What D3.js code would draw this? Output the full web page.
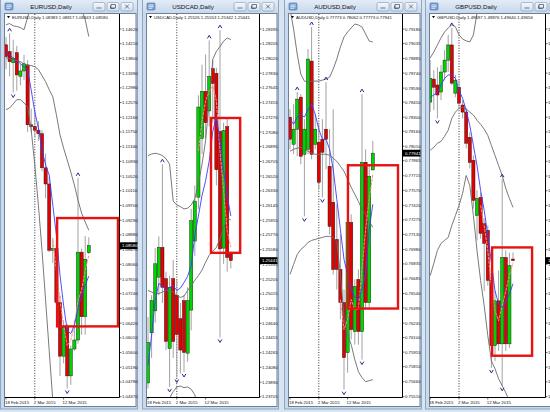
<!DOCTYPE html>
<html>
<head>
<meta charset="utf-8">
<script src="https://cdn.jsdelivr.net/npm/d3@7"></script>
<style>
html,body{margin:0;padding:0;background:#d9e4f1;}
svg{display:block;}
</style>
</head>
<body>
<div id="chart"></div>
<script>
// ---- shared time axis ----
var dateLabels = ["18 Feb 2015", "2 Mar 2015", "12 Mar 2015"];
var dateIndex = [0, 8, 16];
var separatorIndex = 8;

// ---- EURUSD ----  [open, high, low, close]
var eurOHLC = [
  [1.1418,1.1440,1.1350,1.1385],[1.1399,1.1450,1.1330,1.1371],[1.1368,1.1432,1.1285,1.1380],
  [1.1396,1.1415,1.1290,1.1334],[1.1330,1.1365,1.1305,1.1345],[1.1345,1.1390,1.1320,1.1365],
  [1.1362,1.1375,1.1175,1.1195],[1.1195,1.1240,1.1175,1.1190],[1.1190,1.1235,1.1160,1.1180],
  [1.1180,1.1205,1.1150,1.1170],[1.1170,1.1180,1.1065,1.1075],[1.1075,1.1115,1.0990,1.1030],
  [1.1030,1.1050,1.0840,1.0845],[1.0845,1.0880,1.0810,1.0850],[1.0850,1.0860,1.0695,1.0700],
  [1.0700,1.0720,1.0495,1.0550],[1.0550,1.0650,1.0530,1.0630],[1.0630,1.0640,1.0460,1.0495],
  [1.0495,1.0580,1.0470,1.0570],[1.0570,1.0650,1.0565,1.0595],[1.0595,1.1047,1.0585,1.0840],
  [1.0840,1.0850,1.0610,1.0660],[1.0660,1.0885,1.0610,1.0820],[1.08383,1.08817,1.08343,1.08580]
];
var eurUpper = [1.1474,1.1477,1.1471,1.1469,1.1466,1.1460,1.1494,1.1530,1.1572,1.1600,1.1628,1.1642,1.1656,1.1656,1.1650,1.1642,1.1628,1.1614,1.1586,1.1558,1.1544,1.1516,1.1488,1.1441];
var eurMiddle = [1.1382,1.1379,1.1376,1.1374,1.1371,1.1365,1.1360,1.1360,1.1357,1.1349,1.1332,1.1315,1.1293,1.1273,1.1223,1.1167,1.1130,1.1097,1.1063,1.1027,1.0985,1.0949,1.0924,1.0901];
var eurLower = [1.1237,1.1242,1.1253,1.1265,1.1265,1.1256,1.1245,1.1181,1.1083,1.0971,1.0845,1.0706,1.0566,1.0426,1.0314,1.0230,1.0147,1.0091,1.0063,1.0035,1.0063,1.0091,1.0119,1.0147];
var eurBlue = [1.1399,1.1388,1.1382,1.1376,1.1365,1.1357,1.1348,1.1292,1.1231,1.1186,1.1125,1.1083,1.1055,1.0971,1.0887,1.0776,1.0692,1.0622,1.0613,1.0636,1.0683,1.0720,1.0748,1.0773];
var eurPink = [null,null,null,null,null,null,null,null,null,null,null,null,null,1.0873,1.0789,1.0706,1.0636,1.0580,1.0594,1.0636,1.0706,1.0734,1.0789,1.0831];
var eurFractUp = [1, 20];
var eurFractDown = [2, 17];
var eurBox = [14.2, 31.1, 1.0935, 1.0633];
var eurTicks = ["1.14620","1.14210","1.13800","1.13390","1.12980","1.12570","1.12160","1.11750","1.11340","1.10930","1.10520","1.10110","1.09700","1.09290","1.08880","1.08470","1.08060","1.07650","1.07240","1.06830","1.06420","1.06010","1.05600","1.05190","1.04780","1.04370"];

// ---- USDCAD ----
var cadOHLC = [
  [1.2388,1.2472,1.2381,1.2440],[1.2452,1.2500,1.2420,1.2493],[1.2480,1.2560,1.2465,1.2540],
  [1.2523,1.2575,1.2500,1.2561],[1.2561,1.2667,1.2490,1.2510],[1.2521,1.2530,1.2430,1.2441],
  [1.2432,1.2525,1.2383,1.2510],[1.2521,1.2545,1.2420,1.2441],[1.2500,1.2520,1.2395,1.2450],
  [1.2470,1.2490,1.2400,1.2430],[1.2493,1.2500,1.2402,1.2427],[1.2426,1.2510,1.2415,1.2493],
  [1.2481,1.2610,1.2455,1.2595],[1.2569,1.2640,1.2550,1.2620],[1.2625,1.2755,1.2610,1.2740],
  [1.2700,1.2794,1.2680,1.2760],[1.2760,1.2807,1.2700,1.2720],[1.2735,1.2825,1.2715,1.2779],
  [1.2789,1.2800,1.2720,1.2770],[1.2783,1.2790,1.2640,1.2660],[1.2709,1.2838,1.2446,1.2559],
  [1.2560,1.2720,1.2540,1.2710],[1.2715,1.2725,1.2530,1.2548],[1.25526,1.25553,1.25342,1.25441]
];
var cadUpper = [1.2678,1.2680,1.2681,1.2680,1.2678,1.2674,1.2667,1.2620,1.2615,1.2613,1.2610,1.2611,1.2615,1.2623,1.2642,1.2667,1.2697,1.2748,1.2801,1.2811,1.2817,1.2824,1.2828,1.2826];
var cadMiddle = [1.2506,1.2504,1.2502,1.2502,1.2504,1.2506,1.2506,1.2504,1.2500,1.2497,1.2499,1.2506,1.2512,1.2519,1.2525,1.2532,1.2542,1.2551,1.2556,1.2561,1.2572,1.2585,1.2598,1.2596];
var cadLower = [1.2354,1.2360,1.2366,1.2360,1.2354,1.2360,1.2369,1.2377,1.2383,1.2384,1.2382,1.2383,1.2380,1.2373,1.2354,1.2335,1.2315,1.2296,1.2284,1.2277,1.2277,1.2284,1.2290,1.2296];
var cadBlue = [1.2411,1.2449,1.2493,1.2515,1.2512,1.2506,1.2510,1.2512,1.2506,1.2509,1.2516,1.2524,1.2538,1.2576,1.2601,1.2627,1.2646,1.2671,1.2709,1.2728,1.2697,1.2659,1.2627,1.2601];
var cadPink = [null,null,null,null,null,null,null,null,null,null,null,null,null,null,1.2684,1.2722,1.2748,1.2760,1.2767,1.2748,1.2684,1.2633,1.2582,1.2561];
var cadFractUp = [4, 17, 20];
var cadFractDown = [6, 8, 10, 20];
var cadBox = [17.5, 25.6, 1.2726, 1.2554];
var cadTicks = ["1.28395","1.28205","1.28020","1.27830","1.27645","1.27455","1.27270","1.27080","1.26895","1.26705","1.26520","1.26330","1.26145","1.25955","1.25770","1.25580","1.25395","1.25205","1.25015","1.24830","1.24640","1.24455","1.24265","1.24080","1.23890","1.23705"];

// ---- AUDUSD ----
var audOHLC = [
  [0.7830,0.7838,0.7798,0.7808],[0.7803,0.7843,0.7793,0.7818],[0.7818,0.7855,0.7791,0.7848],
  [0.7850,0.7853,0.7783,0.7791],[0.7793,0.7828,0.7731,0.7818],[0.7798,0.7898,0.7793,0.7888],
  [0.7886,0.7920,0.7788,0.7793],[0.7803,0.7833,0.7798,0.7818],[0.7805,0.7823,0.7758,0.7765],
  [0.7808,0.7828,0.7750,0.7795],[0.7818,0.7865,0.7778,0.7808],[0.7781,0.7818,0.7713,0.7721],
  [0.7745,0.7838,0.7673,0.7678],[0.7708,0.7743,0.7658,0.7678],[0.7678,0.7713,0.7628,0.7645],
  [0.7645,0.7658,0.7558,0.7590],[0.7595,0.7733,0.7575,0.7725],[0.7725,0.7733,0.7608,0.7618],
  [0.7616,0.7668,0.7603,0.7661],[0.7668,0.7678,0.7603,0.7616],[0.7616,0.7853,0.7588,0.7785],
  [0.7785,0.7798,0.7638,0.7645],[0.7645,0.7783,0.7638,0.7771],[0.77773,0.78062,0.77773,0.77941]
];
var audUpper = [0.7938,0.7918,0.7893,0.7873,0.7866,0.7865,0.7866,0.7866,0.7866,0.7867,0.7868,0.7870,0.7878,0.7888,0.7900,0.7910,0.7915,0.7919,0.7923,0.7922,0.7920,0.7913,0.7906,0.7905];
var audMiddle = [0.7796,0.7798,0.7799,0.7800,0.7798,0.7796,0.7794,0.7793,0.7793,0.7793,0.7793,0.7792,0.7789,0.7786,0.7781,0.7776,0.7768,0.7760,0.7753,0.7746,0.7738,0.7733,0.7726,0.7720];
var audLower = [0.7673,0.7683,0.7693,0.7698,0.7701,0.7705,0.7707,0.7708,0.7709,0.7710,0.7711,0.7711,0.7710,0.7706,0.7673,0.7630,0.7613,0.7603,0.7588,0.7576,0.7570,0.7566,0.7567,0.7568];
var audBlue = [0.7828,0.7823,0.7830,0.7833,0.7830,0.7838,0.7843,0.7833,0.7818,0.7808,0.7808,0.7798,0.7778,0.7748,0.7718,0.7688,0.7673,0.7658,0.7650,0.7648,0.7658,0.7673,0.7718,0.7743];
var audPink = [null,null,null,null,null,null,null,null,null,null,null,null,null,null,0.7648,0.7618,0.7628,0.7648,0.7638,0.7638,0.7678,0.7718,0.7748,0.7773];
var audFractUp = [2, 6, 10, 20];
var audFractDown = [4, 9, 15, 20];
var audBox = [16.1, 30.0, 0.7782, 0.7639];
var audTicks = ["0.79180","0.79035","0.78885","0.78740","0.78590","0.78450","0.78300","0.78160","0.78010","0.77865","0.77715","0.77570","0.77420","0.77275","0.77130","0.76980","0.76835","0.76685","0.76540","0.76395","0.76245","0.76100","0.75955","0.75810","0.75660","0.75510"];

// ---- GBPUSD ----
var gbpOHLC = [
  [1.5393,1.5506,1.5366,1.5457],[1.5455,1.5479,1.5371,1.5433],[1.5439,1.5487,1.5349,1.5412],
  [1.5420,1.5493,1.5398,1.5474],[1.5474,1.5533,1.5452,1.5506],[1.5506,1.5574,1.5474,1.5547],
  [1.5547,1.5593,1.5439,1.5444],[1.5417,1.5466,1.5406,1.5452],[1.5433,1.5452,1.5376,1.5390],
  [1.5385,1.5398,1.5349,1.5366],[1.5366,1.5376,1.5268,1.5282],[1.5298,1.5312,1.5214,1.5230],
  [1.5236,1.5249,1.5106,1.5128],[1.5087,1.5155,1.5020,1.5133],[1.5136,1.5149,1.5025,1.5039],
  [1.5066,1.5079,1.4884,1.5012],[1.5047,1.5060,1.4898,1.4912],[1.4912,1.4925,1.4676,1.4736],
  [1.4736,1.4884,1.4695,1.4857],[1.4857,1.4939,1.4722,1.4741],[1.4741,1.5185,1.4628,1.4974],
  [1.4974,1.4993,1.4722,1.4741],[1.4741,1.4987,1.4730,1.4952],[1.49697,1.49876,1.49640,1.49656]
];
var gbpUpper = [1.5512,1.5528,1.5547,1.5566,1.5582,1.5593,1.5601,1.5596,1.5574,1.5563,1.5558,1.5555,1.5574,1.5633,1.5682,1.5720,1.5750,1.5780,1.5800,1.5810,1.5820,1.5830,1.5835,1.5840];
var gbpMiddle = [1.5263,1.5271,1.5282,1.5287,1.5301,1.5317,1.5349,1.5366,1.5376,1.5379,1.5374,1.5366,1.5358,1.5344,1.5333,1.5320,1.5303,1.5276,1.5249,1.5222,1.5195,1.5160,1.5133,1.5109];
var gbpLower = [1.4925,1.4958,1.4993,1.5012,1.5020,1.5028,1.5060,1.5087,1.5114,1.5147,1.5195,1.5168,1.5087,1.4993,1.4912,1.4844,1.4763,1.4695,1.4674,1.4647,1.4628,1.4609,1.4587,1.4560];
var gbpBlue = [1.5406,1.5412,1.5420,1.5439,1.5457,1.5466,1.5466,1.5457,1.5425,1.5403,1.5371,1.5330,1.5276,1.5222,1.5155,1.5101,1.5033,1.4960,1.4884,1.4849,1.4839,1.4852,1.4876,1.4903];
var gbpPink = [null,null,null,null,null,null,null,null,null,null,null,null,null,null,1.5114,1.5060,1.4993,1.4898,1.4830,1.4803,1.4844,1.4884,1.4925,1.4960];
var gbpFractUp = [6, 20];
var gbpFractDown = [2, 17, 20];
var gbpBox = [17.2, 28.3, 1.5001, 1.4709];
var gbpTicks = ["1.55900","1.55505","1.55105","1.54710","1.54315","1.53915","1.53520","1.53125","1.52725","1.52330","1.51935","1.51540","1.51140","1.50745","1.50350","1.49950","1.49555","1.49160","1.48760","1.48365","1.47970","1.47575","1.47175","1.46780","1.46385","1.45985"];

var charts = [
  {name:"EURUSD", ohlc:eurOHLC, upper:eurUpper, middle:eurMiddle, lower:eurLower, blue:eurBlue, pink:eurPink, up:eurFractUp, down:eurFractDown, box:eurBox, ticks:eurTicks},
  {name:"USDCAD", ohlc:cadOHLC, upper:cadUpper, middle:cadMiddle, lower:cadLower, blue:cadBlue, pink:cadPink, up:cadFractUp, down:cadFractDown, box:cadBox, ticks:cadTicks},
  {name:"AUDUSD", ohlc:audOHLC, upper:audUpper, middle:audMiddle, lower:audLower, blue:audBlue, pink:audPink, up:audFractUp, down:audFractDown, box:audBox, ticks:audTicks},
  {name:"GBPUSD", ohlc:gbpOHLC, upper:gbpUpper, middle:gbpMiddle, lower:gbpLower, blue:gbpBlue, pink:gbpPink, up:gbpFractUp, down:gbpFractDown, box:gbpBox, ticks:gbpTicks}
];

// window placement
var wins = [
  {outerL:0,   outerR:138, plotL:5,   axisX:119, bar0:6},
  {outerL:142, outerR:279, plotL:147, axisX:259, bar0:148},
  {outerL:284, outerR:422, plotL:289, axisX:402, bar0:290},
  {outerL:425, outerR:566, plotL:430, axisX:545, bar0:430.2}
];

var WIDTH = 550, HEIGHT = 412;
var TOP = 14, BOTTOM = 397;
var BAR_STEP = 3.6;
var FONT = "'Liberation Sans', Arial, sans-serif";

var svg = d3.select("#chart").append("svg")
  .attr("width", WIDTH).attr("height", HEIGHT);

var defs = svg.append("defs");
var tg = defs.append("linearGradient").attr("id","titleGrad").attr("x1",0).attr("y1",0).attr("x2",0).attr("y2",1);
tg.append("stop").attr("offset","0%").attr("stop-color","#e3ecf7");
tg.append("stop").attr("offset","100%").attr("stop-color","#c8d8ed");
var bg = defs.append("linearGradient").attr("id","btnGrad").attr("x1",0).attr("y1",0).attr("x2",0).attr("y2",1);
bg.append("stop").attr("offset","0%").attr("stop-color","#f7f9fc");
bg.append("stop").attr("offset","100%").attr("stop-color","#d3dfee");

svg.append("rect").attr("width",WIDTH).attr("height",HEIGHT).attr("fill","#d9e4f1");

function drawWindow(win, c, k){
  var g = svg.append("g");
  // frame
  g.append("rect").attr("x",win.outerL+0.5).attr("y",-2).attr("width",win.outerR-win.outerL-1).attr("height",411)
    .attr("fill","#c9d9ee").attr("stroke","#8ea5c3");
  g.append("rect").attr("x",win.outerL+1).attr("y",0).attr("width",win.outerR-win.outerL-2).attr("height",13)
    .attr("fill","url(#titleGrad)");
  // icon
  var ic = g.append("g").attr("transform","translate("+(win.outerL+5)+",3)");
  ic.append("rect").attr("width",8).attr("height",7).attr("rx",1).attr("fill","#7aa3d6").attr("stroke","#3f6aa3").attr("stroke-width",0.6);
  ic.append("path").attr("d","M1.5,2H6.5M1.5,3.7H6.5M1.5,5.3H5").attr("stroke","#ffffff").attr("stroke-width",0.7);
  // title
  g.append("text").attr("x",win.outerL+51).attr("y",9.2).attr("text-anchor","middle")
    .attr("font-family",FONT).attr("font-size",6.2).attr("fill","#111")
    .text(c.name + ",Daily");
  // buttons
  [-45,-31,-17].forEach(function(off, j){
    var bx = win.outerR + off;
    g.append("rect").attr("x",bx).attr("y",2.5).attr("width",12).attr("height",8.5).attr("rx",1.5)
      .attr("fill","url(#btnGrad)").attr("stroke","#7d93b2").attr("stroke-width",0.6);
    var gl = g.append("path").attr("fill","none").attr("stroke","#3a4a60").attr("stroke-width",0.7);
    if (j===0) gl.attr("d","M"+(bx+3.5)+",8H"+(bx+8.5));
    else if (j===1) gl.attr("d","M"+(bx+4)+",4.5h4.5v3.5h-4.5zM"+(bx+3.5)+",5.5v3h4");
    else gl.attr("d","M"+(bx+4)+",4.5L"+(bx+8)+",8.5M"+(bx+8)+",4.5L"+(bx+4)+",8.5");
  });
  // client area
  var clientR = Math.min(win.outerR - 2, WIDTH + 20);
  g.append("rect").attr("x",win.plotL-0.5).attr("y",TOP-0.5).attr("width",clientR-win.plotL+0.5).attr("height",393)
    .attr("fill","#ffffff").attr("stroke","#6f7f96").attr("stroke-width",1);

  var x = d3.scaleLinear().domain([0,1]).range([win.bar0, win.bar0 + BAR_STEP]);
  var y = d3.scaleLinear().domain([+c.ticks[c.ticks.length-1], +c.ticks[0]]).range([396.7, 29]);

  var clipId = "clip"+k;
  defs.append("clipPath").attr("id",clipId).append("rect")
    .attr("x",win.plotL).attr("y",TOP).attr("width",win.axisX-win.plotL).attr("height",BOTTOM-TOP);
  var p = g.append("g").attr("clip-path","url(#"+clipId+")");

  // period separator
  p.append("line").attr("x1",x(separatorIndex)).attr("x2",x(separatorIndex)).attr("y1",TOP).attr("y2",BOTTOM)
    .attr("stroke","#000").attr("stroke-width",0.8).attr("stroke-dasharray","1,1.6");

  // candles
  p.selectAll(".wick").data(c.ohlc).join("line").attr("class","wick")
    .attr("x1",function(d,i){return x(i);}).attr("x2",function(d,i){return x(i);})
    .attr("y1",function(d){return y(d[1]);}).attr("y2",function(d){return y(d[2]);})
    .attr("stroke","#a2a2a2").attr("stroke-width",1);
  p.selectAll(".body").data(c.ohlc).join("rect").attr("class","body")
    .attr("x",function(d,i){return x(i)-1.6;}).attr("width",3.2)
    .attr("y",function(d){return y(Math.max(d[0],d[3]));})
    .attr("height",function(d){return Math.max(1, Math.abs(y(d[0])-y(d[3])));})
    .attr("fill",function(d){return d[3]>=d[0] ? "#00d400" : "#e40000";})
    .attr("stroke","#1a1a1a").attr("stroke-width",0.45);

  // indicator lines
  var line = d3.line().defined(function(v){return v!==null;})
    .x(function(v,i){return x(i);}).y(function(v){return y(v);});
  [c.upper, c.middle, c.lower].forEach(function(s){
    p.append("path").attr("d",line(s)).attr("fill","none").attr("stroke","#6a6a6a").attr("stroke-width",0.9);
  });
  p.append("path").attr("d",line(c.pink)).attr("fill","none").attr("stroke","#ff8a8a").attr("stroke-width",1)
    .attr("stroke-dasharray","3,1");
  p.append("path").attr("d",line(c.blue)).attr("fill","none").attr("stroke","#3b3bff").attr("stroke-width",0.9);

  // fractals
  c.up.forEach(function(i){
    var cx = x(i), cy = y(c.ohlc[i][1]) - 3.5;
    p.append("path").attr("d","M"+(cx-1.8)+","+(cy+1.5)+"L"+cx+","+(cy-1.5)+"L"+(cx+1.8)+","+(cy+1.5))
      .attr("fill","none").attr("stroke","#2a2a8a").attr("stroke-width",1);
  });
  c.down.forEach(function(i){
    var cx = x(i), cy = y(c.ohlc[i][2]) + 3.5;
    p.append("path").attr("d","M"+(cx-1.8)+","+(cy-1.5)+"L"+cx+","+(cy+1.5)+"L"+(cx+1.8)+","+(cy-1.5))
      .attr("fill","none").attr("stroke","#2a2a8a").attr("stroke-width",1);
  });

  // red rectangle object
  var b = c.box;
  g.append("rect").attr("x",x(b[0])).attr("y",y(b[2]))
    .attr("width",x(b[1])-x(b[0])).attr("height",y(b[3])-y(b[2]))
    .attr("fill","none").attr("stroke","#e81212").attr("stroke-width",2.4);

  // axes lines
  g.append("line").attr("x1",win.axisX+0.5).attr("x2",win.axisX+0.5).attr("y1",TOP).attr("y2",BOTTOM+0.5)
    .attr("stroke","#000").attr("stroke-width",1);
  g.append("line").attr("x1",win.plotL).attr("x2",win.axisX+0.5).attr("y1",BOTTOM+0.5).attr("y2",BOTTOM+0.5)
    .attr("stroke","#000").attr("stroke-width",1);

  // price ticks
  c.ticks.forEach(function(t){
    var ty = y(+t);
    g.append("line").attr("x1",win.axisX).attr("x2",win.axisX+2.5).attr("y1",ty).attr("y2",ty)
      .attr("stroke","#000").attr("stroke-width",0.6);
    g.append("text").attr("x",win.axisX+3).attr("y",ty+1.5)
      .attr("font-family",FONT).attr("font-size",4.3).attr("fill","#111").text(t);
  });
  // current price box
  var last = c.ohlc[c.ohlc.length-1][3];
  var ly = y(last);
  g.append("rect").attr("x",win.axisX+1).attr("y",ly-3.4).attr("width",17.5).attr("height",6.8).attr("fill","#000");
  g.append("text").attr("x",win.axisX+3).attr("y",ly+1.6)
    .attr("font-family",FONT).attr("font-size",4.3).attr("fill","#fff").text(last.toFixed(5));

  // time labels
  dateIndex.forEach(function(di, j){
    var tx = x(di);
    g.append("line").attr("x1",tx).attr("x2",tx).attr("y1",BOTTOM).attr("y2",BOTTOM+2.5)
      .attr("stroke","#000").attr("stroke-width",0.6);
    g.append("text").attr("x",tx-1).attr("y",404)
      .attr("font-family",FONT).attr("font-size",4.3).attr("fill","#111").text(dateLabels[j]);
  });

  // header
  var lb = c.ohlc[c.ohlc.length-1];
  g.append("path").attr("d","M"+(win.plotL+2)+",16L"+(win.plotL+5)+",16L"+(win.plotL+3.5)+",18.2z").attr("fill","#000");
  g.append("text").attr("x",win.plotL+7).attr("y",18.5)
    .attr("font-family",FONT).attr("font-size",4.3).attr("fill","#111")
    .text(c.name+",Daily  "+lb.map(function(v){return v.toFixed(5);}).join(" "));
}

charts.forEach(function(c, k){ drawWindow(wins[k], c, k); });
</script>
</body>
</html>
